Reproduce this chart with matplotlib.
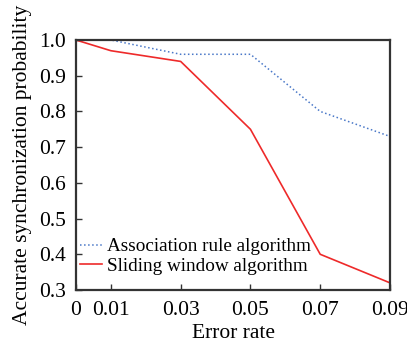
import matplotlib
matplotlib.use("Agg")
import matplotlib.pyplot as plt

error_rate = [0, 0.01, 0.03, 0.05, 0.07, 0.09]
tick_labels = ["0", "0.01", "0.03", "0.05", "0.07", "0.09"]
association_rule = [1.0, 1.0, 0.96, 0.96, 0.80, 0.73]
sliding_window = [1.0, 0.97, 0.94, 0.75, 0.40, 0.32]

plt.rcParams['font.family'] = ['Liberation Serif', 'DejaVu Serif']
plt.rcParams['font.size'] = 15.5

fig = plt.figure(figsize=(4.07, 3.44), dpi=100)
ax = fig.add_axes([76 / 407, 1 - 290 / 344, 314 / 407, 250 / 344])

ax.plot(error_rate, association_rule, color='#4a78c8', linestyle=':', linewidth=1.1,
        label='Association rule algorithm')
ax.plot(error_rate, sliding_window, color='#ee2a2a', linewidth=1.2,
        label='Sliding window algorithm')

ax.set_xlim(0, 0.09)
ax.set_ylim(0.3, 1.0)
ax.set_xticks(error_rate)
ax.set_xticklabels(tick_labels)
ax.set_yticks([0.3, 0.4, 0.5, 0.6, 0.7, 0.8, 0.9, 1.0])
ax.set_yticklabels(["0.3", "0.4", "0.5", "0.6", "0.7", "0.8", "0.9", "1.0"])
ax.tick_params(direction='in', length=4, width=1, color='#333333',
               top=False, right=False)
ax.tick_params(axis='x', pad=8)
ax.tick_params(axis='y', pad=7)
for s in ax.spines.values():
    s.set_color('#333333')
    s.set_linewidth(1.6)

ax.set_xlabel('Error rate', labelpad=3)
ax.set_ylabel('Accurate synchronization probability', labelpad=5)

ax.legend(loc='lower left', bbox_to_anchor=(-0.025, 0.015), frameon=False,
          handlelength=1.15, handletextpad=0.3, labelspacing=0.1,
          borderaxespad=0.2, fontsize=13.8)

fig.savefig('out.png', dpi=100)
